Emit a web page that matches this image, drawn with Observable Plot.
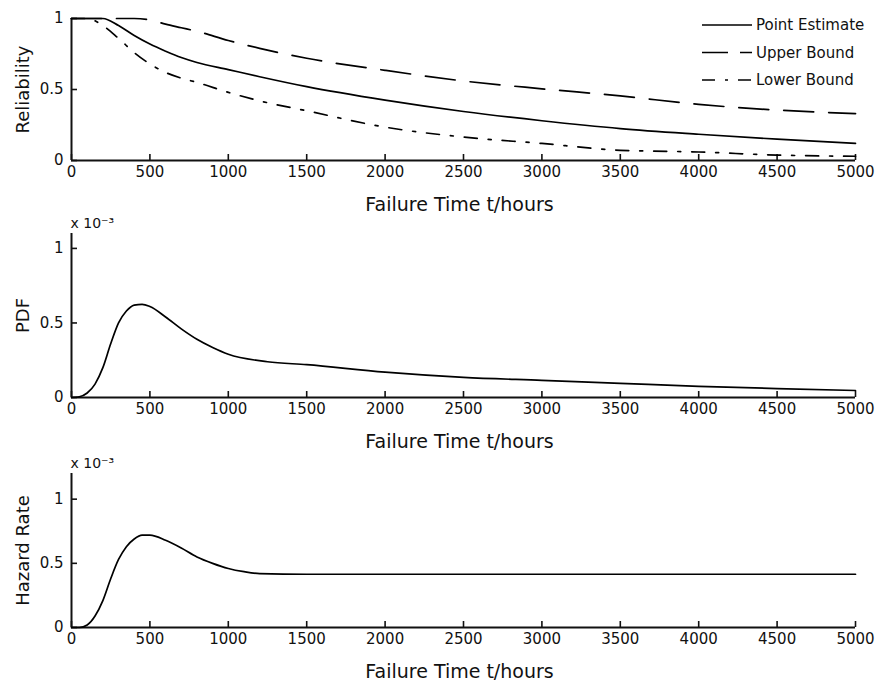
<!DOCTYPE html>
<html>
<head>
<meta charset="utf-8">
<script src="https://cdn.jsdelivr.net/npm/d3@7"></script>
<script src="https://cdn.jsdelivr.net/npm/@observablehq/plot@0.6"></script>
<style>
  body { margin: 0; background: #fff; }
  #wrap { position: relative; width: 877px; height: 682px; font-family: "DejaVu Sans", sans-serif; }
  #wrap svg { display: block; overflow: visible; }
  #legend { position: absolute; left: 0; top: 0; pointer-events: none; }
</style>
</head>
<body>
<div id="wrap"></div>
<script>
// ---- data ----
const xTicks = [0, 500, 1000, 1500, 2000, 2500, 3000, 3500, 4000, 4500, 5000];
const yTicks = [0, 0.5, 1];
const xLabel = "Failure Time t/hours";
const expLabel = "x 10\u207B\u00B3";

const seriesNames = ["Point Estimate", "Upper Bound", "Lower Bound"];

const timesR = [0, 100, 200, 300, 400, 500, 600, 700, 800, 1000, 1200, 1500, 2000, 2500, 3000, 3500, 4000, 4500, 5000];
const relPoint = [1, 1, 1, 0.95, 0.88, 0.82, 0.77, 0.725, 0.69, 0.64, 0.59, 0.52, 0.425, 0.345, 0.28, 0.225, 0.185, 0.15, 0.12];
const relUpper = [1, 1, 1, 1, 1, 0.99, 0.96, 0.935, 0.91, 0.845, 0.79, 0.72, 0.635, 0.56, 0.505, 0.455, 0.395, 0.355, 0.33];
const relLower = [1, 1, 0.95, 0.86, 0.76, 0.68, 0.62, 0.58, 0.55, 0.48, 0.42, 0.35, 0.235, 0.165, 0.12, 0.072, 0.06, 0.038, 0.03];

const timesP = [0, 50, 100, 150, 200, 250, 300, 350, 400, 450, 500, 600, 700, 800, 900, 1000, 1250, 1500, 2000, 2500, 3000, 3500, 4000, 4500, 5000];
const pdfVals = [0, 0.005, 0.03, 0.09, 0.2, 0.36, 0.5, 0.58, 0.62, 0.625, 0.61, 0.54, 0.46, 0.39, 0.335, 0.29, 0.24, 0.22, 0.17, 0.135, 0.115, 0.095, 0.075, 0.06, 0.047];

const timesH = [0, 50, 100, 150, 200, 250, 300, 350, 400, 450, 500, 600, 700, 800, 900, 1000, 1100, 1200, 1500, 2000, 3000, 4000, 5000];
const hazVals = [0, 0, 0.02, 0.09, 0.21, 0.38, 0.53, 0.63, 0.69, 0.72, 0.72, 0.68, 0.62, 0.55, 0.5, 0.46, 0.435, 0.42, 0.415, 0.415, 0.415, 0.415, 0.415];

const dashes = [null, "30,15", "13,11,3,11"];

// ---- layout ----
const W = 877, ML = 71, MR = 22;
const frameW = W - ML - MR;
const fontFamily = "DejaVu Sans, sans-serif";
const wrap = document.getElementById("wrap");

function panel({height, marginTop, marginBottom, yDomain, yLabel, lines, exp}) {
  const frameH = height - marginTop - marginBottom;
  const marks = [
    Plot.axisX({ticks: xTicks, tickSize: 0, tickPadding: 6, label: null, fontSize: 15, tickFormat: d => String(d)}),
    Plot.axisY({ticks: yTicks, tickSize: 0, tickPadding: 8, label: null, fontSize: 15, tickFormat: d => String(d)}),
    Plot.ruleX(xTicks, {x: d => d, insetTop: frameH - 6, strokeWidth: 1.6}),
    Plot.ruleY(yTicks, {y: d => d, insetRight: frameW - 6, strokeWidth: 1.6}),
    Plot.ruleY([0], {strokeWidth: 2}),
    Plot.ruleX([0], {strokeWidth: 2}),
    ...lines.map(l => Plot.line(l.x.map((t, i) => ({t, v: l.y[i]})), {
      x: "t", y: "v", stroke: "#000", strokeWidth: 1.7,
      strokeDasharray: l.dash, curve: "monotone-x"
    })),
    Plot.text([xLabel], {text: d => d, frameAnchor: "bottom", dy: 44, dx: -4, lineAnchor: "middle", fontSize: 19, fill: "#111"}),
    Plot.text([yLabel], {text: d => d, frameAnchor: "left", dx: -48, rotate: -90, lineAnchor: "middle", textAnchor: "middle", fontSize: 18, fill: "#111"})
  ];
  if (exp) marks.push(Plot.text([expLabel], {text: d => d, frameAnchor: "top-left", dy: -10, dx: -1, textAnchor: "start", lineAnchor: "middle", fontSize: 14, fill: "#111"}));
  const p = Plot.plot({
    width: W, height, marginLeft: ML, marginRight: MR, marginTop, marginBottom,
    style: {fontFamily, color: "#111", background: "#fff", overflow: "visible"},
    x: {domain: [0, 5000]},
    y: {domain: yDomain},
    marks
  });
  wrap.appendChild(p);
}

panel({
  height: 218, marginTop: 18, marginBottom: 58, yDomain: [0, 1], yLabel: "Reliability",
  lines: [
    {x: timesR, y: relPoint, dash: dashes[0]},
    {x: timesR, y: relUpper, dash: dashes[1]},
    {x: timesR, y: relLower, dash: dashes[2]}
  ]
});
panel({
  height: 238, marginTop: 15, marginBottom: 59, yDomain: [0, 1.1], yLabel: "PDF", exp: true,
  lines: [{x: timesP, y: pdfVals, dash: null}]
});
panel({
  height: 226, marginTop: 17, marginBottom: 55, yDomain: [0, 1.2], yLabel: "Hazard Rate", exp: true,
  lines: [{x: timesH, y: hazVals, dash: null}]
});

// ---- legend ----
const leg = d3.create("svg").attr("id", "legend").attr("width", W).attr("height", 100)
  .style("position", "absolute").style("left", "0px").style("top", "0px");
seriesNames.forEach((name, i) => {
  const y = 25 + i * 27.5;
  const g = leg.append("g");
  g.append("line").attr("x1", 702).attr("x2", 752).attr("y1", y).attr("y2", y)
    .attr("stroke", "#000").attr("stroke-width", 1.7)
    .attr("stroke-dasharray", i === 0 ? null : (i === 1 ? "26,12" : "13,10,3,10"));
  g.append("text").attr("x", 756).attr("y", y).attr("dy", "0.35em")
    .attr("font-family", fontFamily).attr("font-size", 15).attr("fill", "#111").text(name);
});
wrap.appendChild(leg.node());
</script>
</body>
</html>
